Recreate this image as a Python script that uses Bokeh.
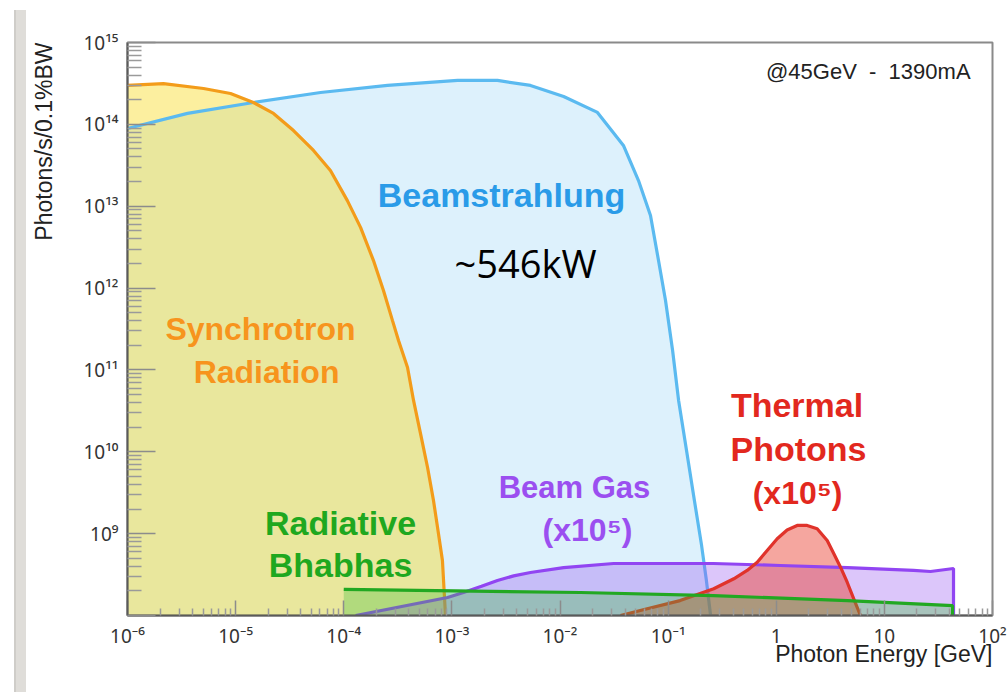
import math

from bokeh.plotting import figure
from bokeh.models import Label, FixedTicker, CustomJSTickFormatter, Title
from bokeh.embed import file_html
from bokeh.resources import INLINE

# ---------------------------------------------------------------------------
# Spectra (photon energy in GeV, flux in photons/s/0.1%BW)
# ---------------------------------------------------------------------------
FLOOR = 1e8

sr_energy = [1.0e-6, 2.15e-6, 5.05e-6, 8.97e-6, 1.46e-5, 2.24e-5, 3.43e-5, 5.25e-5,
             7.53e-5, 1.08e-4, 1.43e-4, 1.88e-4, 2.33e-4, 2.82e-4, 3.21e-4, 3.89e-4,
             4.42e-4, 5.13e-4, 5.96e-4, 6.76e-4, 7.52e-4, 8.18e-4, 8.73e-4]
sr_flux = [2.99e14, 3.15e14, 2.74e14, 2.38e14, 1.85e14, 1.36e14, 8.41e13, 4.80e13,
           2.73e13, 1.17e13, 5.51e12, 2.18e12, 9.35e11, 4.03e11, 2.29e11, 1.07e11,
           4.24e10, 1.67e10, 6.43e9, 2.54e9, 1.00e9, 4.70e8, 1.0e8]

bs_energy = [1.0e-6, 3.59e-6, 1.46e-5, 6.10e-5, 2.54e-4, 1.13e-3, 2.64e-3, 5.33e-3,
             1.08e-2, 2.22e-2, 3.86e-2, 5.32e-2, 6.87e-2, 8.15e-2, 9.46e-2, 0.110,
             0.125, 0.148, 0.175, 0.204, 0.226, 0.247]
bs_flux = [8.89e13, 1.36e14, 1.85e14, 2.45e14, 2.99e14, 3.44e14, 3.44e14, 2.99e14,
           2.19e14, 1.40e14, 5.52e13, 2.06e13, 7.71e12, 2.17e12, 7.06e11, 1.73e11,
           4.23e10, 1.04e10, 2.54e9, 7.14e8, 2.67e8, 1.0e8]

# beam-gas bremsstrahlung, scaled x1e5
bg_energy = [1.29e-4, 9.12e-4, 1.28e-3, 1.88e-3, 2.64e-3, 3.73e-3, 5.33e-3, 1.08e-2,
             3.13e-2, 0.262, 1.09, 4.56, 18.6, 26.7, 43.6, 43.6]
bg_flux = [1.0e8, 1.66e8, 1.91e8, 2.28e8, 2.68e8, 3.05e8, 3.35e8, 3.85e8,
           4.32e8, 4.32e8, 4.08e8, 3.85e8, 3.55e8, 3.45e8, 3.75e8, 1.0e8]

# radiative Bhabha scattering
rb_energy = [1.0e-4, 1.0e-4, 1.55e-2, 0.263, 4.56, 42.7, 42.7]
rb_flux = [1.0e8, 2.08e8, 1.91e8, 1.75e8, 1.52e8, 1.32e8, 1.0e8]

# thermal photons, scaled x1e5
th_energy = [3.63e-2, 6.40e-2, 0.129, 0.264, 0.405, 0.538, 0.667, 0.824, 1.02, 1.26,
             1.56, 1.93, 2.39, 2.96, 3.41, 3.93, 4.53, 5.21, 6.01]
th_flux = [1.0e8, 1.21e8, 1.52e8, 2.12e8, 2.81e8, 3.55e8, 4.48e8, 6.22e8, 8.65e8,
           1.11e9, 1.26e9, 1.26e9, 1.15e9, 8.24e8, 5.68e8, 3.89e8, 2.55e8, 1.60e8, 1.0e8]

x_exponents = list(range(-6, 3))
x_tick_labels = ["10⁻⁶", "10⁻⁵", "10⁻⁴", "10⁻³", "10⁻²", "10⁻¹", "1", "10", "10²"]
y_exponents = list(range(8, 16))
y_tick_labels = ["", "10⁹", "10¹⁰", "10¹¹", "10¹²", "10¹³", "10¹⁴", "10¹⁵"]

FONT = "Liberation Sans"
TICK_FONT = "Noto Sans"

p = figure(width=1007, height=692,
           x_axis_type="log", y_axis_type="log",
           x_range=(1e-6, 1e2), y_range=(FLOOR, 1e15),
           output_backend="svg", toolbar_location=None,
           min_border_left=127, min_border_right=15,
           min_border_top=42, min_border_bottom=77)

p.background_fill_color = "white"
p.border_fill_alpha = 0
p.styles = {
    "background": "linear-gradient(to bottom, #ffffff 10px, rgba(255,255,255,0) 10px), "
                  "linear-gradient(to right, #ffffff 14px, #cfcdc9 14px, #cfcdc9 16px, "
                  "#dfddd9 16px, #dfddd9 26px, #ffffff 26px)"
}
p.outline_line_color = "#8a8a8a"
p.outline_line_width = 2
p.xgrid.visible = False
p.ygrid.visible = False

# ---------------------------------------------------------------------------
# Axes: decade ticks, inward tick marks, superscript labels
# ---------------------------------------------------------------------------
def decade_ticker(exps):
    minors = [m * 10.0 ** e for e in exps[:-1] for m in range(2, 10)]
    return FixedTicker(ticks=[10.0 ** e for e in exps], minor_ticks=minors)

fmt_code = """
const e = Math.round(Math.log10(tick));
const s = labels[e - lo];
return (s === undefined) ? "" : s;
"""
p.xaxis.ticker = decade_ticker(x_exponents)
p.yaxis.ticker = decade_ticker(y_exponents)
p.xaxis.formatter = CustomJSTickFormatter(args=dict(labels=x_tick_labels, lo=x_exponents[0]), code=fmt_code)
p.yaxis.formatter = CustomJSTickFormatter(args=dict(labels=y_tick_labels, lo=y_exponents[0]), code=fmt_code)

for ax in (p.xaxis[0], p.yaxis[0]):
    ax.axis_line_color = "#5a5a5a"
    ax.axis_line_width = 2
    ax.major_tick_line_color = "#8c8c8c"
    ax.minor_tick_line_color = "#9a9a9a"
    ax.major_tick_line_width = 1.5
    ax.minor_tick_line_width = 1.5
    ax.major_tick_out = 0
    ax.minor_tick_out = 0
    ax.major_label_text_font = TICK_FONT
    ax.major_label_text_font_size = "19px"
    ax.major_label_text_color = "#333333"

p.yaxis.major_tick_in = 28
p.yaxis.minor_tick_in = 14
p.yaxis.major_label_standoff = 9
p.xaxis.major_tick_in = 15
p.xaxis.minor_tick_in = 7
p.xaxis.major_label_standoff = 7

# axis titles
p.add_layout(Title(text="Photons/s/0.1%BW", align="right", text_font=FONT,
                   text_font_size="23px", text_font_style="normal",
                   text_color="#222222", standoff=47), "left")
p.add_layout(Title(text="Photon Energy [GeV]", align="right", text_font=FONT,
                   text_font_size="23px", text_font_style="normal",
                   text_color="#222222", standoff=-25), "below")

# ---------------------------------------------------------------------------
# Filled spectra
# ---------------------------------------------------------------------------
ORANGE = "#f39c1a"
BLUE = "#5bbaf0"
PURPLE = "#9145f2"
GREEN = "#22a822"
RED = "#e0332b"
LW = 3.2

p.varea(x=bs_energy, y1=[FLOOR] * len(bs_energy), y2=bs_flux, fill_color="#8fd0f5", fill_alpha=0.3)
p.varea(x=sr_energy, y1=[FLOOR] * len(sr_energy), y2=sr_flux, fill_color="#f8db2a", fill_alpha=0.45)
p.line(bs_energy, bs_flux, line_color=BLUE, line_width=LW)
p.line(sr_energy, sr_flux, line_color=ORANGE, line_width=LW)

p.varea(x=bg_energy, y1=[FLOOR] * len(bg_energy), y2=bg_flux, fill_color="#9a5cf0", fill_alpha=0.35)
p.varea(x=th_energy, y1=[FLOOR] * len(th_energy), y2=th_flux, fill_color="#e83a2a", fill_alpha=0.45)
p.line(bg_energy, bg_flux, line_color=PURPLE, line_width=LW)
p.line(th_energy, th_flux, line_color=RED, line_width=LW)

p.varea(x=rb_energy, y1=[FLOOR] * len(rb_energy), y2=rb_flux, fill_color="#3cbe3c", fill_alpha=0.32)
p.line(rb_energy[1:], rb_flux[1:], line_color=GREEN, line_width=LW)

# ---------------------------------------------------------------------------
# Annotations
# ---------------------------------------------------------------------------
def tag(x, y, text, color, size="33px", bold=True, font=FONT, align="center"):
    p.add_layout(Label(x=x, y=y, text=text, text_color=color, text_font=font,
                       text_font_size=size, text_font_style="bold" if bold else "normal",
                       text_align=align, text_baseline="alphabetic"))

tag(10 ** -4.770, 10 ** 11.494, "Synchrotron", "#f7941d", size="32px")
tag(10 ** -4.714, 10 ** 10.969, "Radiation", "#f7941d", size="32px")
tag(10 ** -2.541, 10 ** 13.131, "Beamstrahlung", "#2a9be8", size="34px")
tag(10 ** -2.319, 10 ** 12.312, "~546kW", "black", size="38px", bold=False, font="Open Sans")
tag(10 ** -4.030, 10 ** 9.136, "Radiative", "#1fa81f", size="34px")
tag(10 ** -4.030, 10 ** 8.611, "Bhabhas", "#1fa81f", size="34px")
tag(10 ** -1.866, 10 ** 9.564, "Beam Gas", "#9b4ff0", size="31px")
tag(10 ** -1.746, 10 ** 9.050, "(x10⁵)", "#9b4ff0", size="32px")
tag(10 ** 0.192, 10 ** 10.566, "Thermal", "#e2281e", size="34px")
tag(10 ** 0.206, 10 ** 10.040, "Photons", "#e2281e", size="34px")
tag(10 ** 0.197, 10 ** 9.491, "(x10⁵)", "#e2281e", size="32px")
tag(10 ** 1.797, 10 ** 14.645, "@45GeV\u00a0 -\u00a0 1390mA", "#222222", size="22px",
    bold=False, align="right")

open("out.html", "w").write(file_html(p, INLINE))
